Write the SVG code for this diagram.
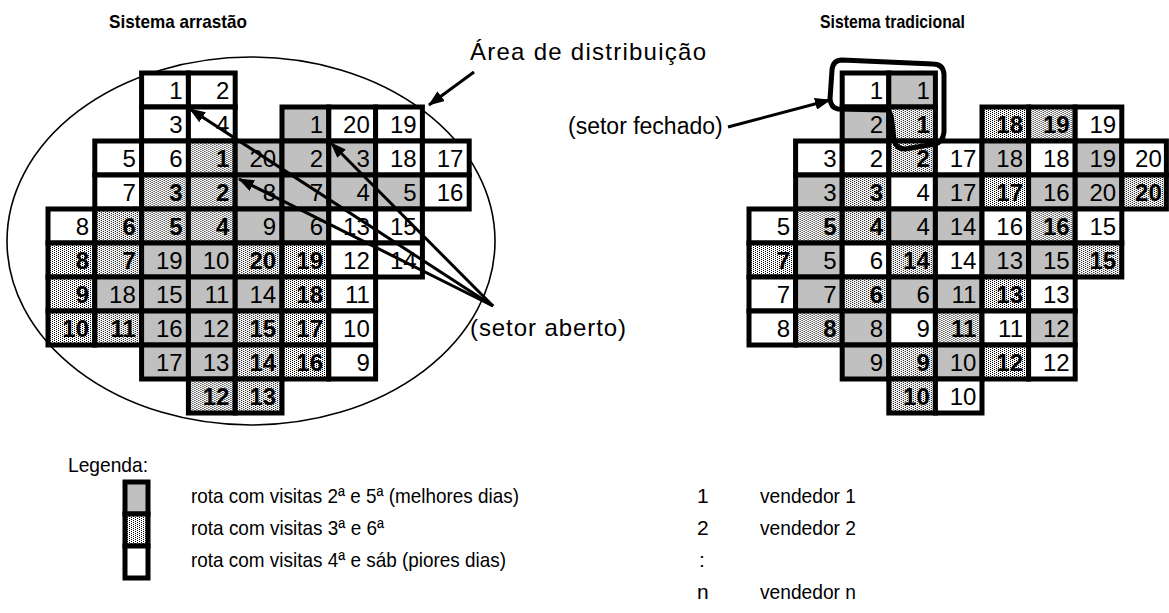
<svg xmlns="http://www.w3.org/2000/svg" width="1169" height="613" viewBox="0 0 1169 613">
<style>
text{font-family:"Liberation Sans",Arial,Helvetica,sans-serif;fill:#000}
.cell rect{stroke:#000;stroke-width:5}
.cell text{font-size:24px;text-anchor:end}
.w rect{fill:#fff}
.g rect{fill:#c0c0c0}
.d rect{fill:url(#dots)}
.d text{font-weight:bold}
.ttl{font-size:19px;font-weight:bold}
.lbl{font-size:24px}
.leg{font-size:21px}
.arr{stroke:#000;stroke-width:3;fill:none}
</style>
<defs>
<pattern id="dots" width="4" height="2" patternUnits="userSpaceOnUse">
<rect width="4" height="2" fill="#fff" style="stroke:none"/>
<rect x="0" y="0" width="1" height="1" fill="#000" style="stroke:none"/>
<rect x="2" y="1" width="1" height="1" fill="#000" style="stroke:none"/>
</pattern>
<marker id="ah" viewBox="0 0 16 12" refX="15" refY="6" markerWidth="16" markerHeight="12" markerUnits="userSpaceOnUse" orient="auto">
<path d="M0,0 L16,6 L0,12 z" fill="#000"/>
</marker>
</defs>
<rect width="1169" height="613" fill="#fff"/>

<g id="titles">
<text class="ttl" x="109" y="28" textLength="138" lengthAdjust="spacingAndGlyphs">Sistema arrastão</text>
<text class="ttl" x="820" y="28" textLength="145" lengthAdjust="spacingAndGlyphs">Sistema tradicional</text>
</g>

<g id="area-distribuicao">
<ellipse cx="251" cy="241" rx="244" ry="184" fill="none" stroke="#000" stroke-width="1.6"/>
</g>

<g id="grid-arrastao">
<g id="L0-2" class="cell w" transform="translate(141.6,73)"><rect width="46.8" height="34"/><text x="41" y="26">1</text></g>
<g id="L0-3" class="cell w" transform="translate(188.4,73)"><rect width="46.8" height="34"/><text x="41" y="26">2</text></g>

<g id="L1-2" class="cell w" transform="translate(141.6,107)"><rect width="46.8" height="34"/><text x="41" y="26">3</text></g>
<g id="L1-3" class="cell w" transform="translate(188.4,107)"><rect width="46.8" height="34"/><text x="41" y="26">4</text></g>
<g id="L1-5" class="cell g" transform="translate(282,107)"><rect width="46.8" height="34"/><text x="41" y="26">1</text></g>
<g id="L1-6" class="cell w" transform="translate(328.8,107)"><rect width="46.8" height="34"/><text x="41" y="26">20</text></g>
<g id="L1-7" class="cell w" transform="translate(375.6,107)"><rect width="46.8" height="34"/><text x="41" y="26">19</text></g>

<g id="L2-1" class="cell w" transform="translate(94.8,141)"><rect width="46.8" height="34"/><text x="41" y="26">5</text></g>
<g id="L2-2" class="cell w" transform="translate(141.6,141)"><rect width="46.8" height="34"/><text x="41" y="26">6</text></g>
<g id="L2-3" class="cell d" transform="translate(188.4,141)"><rect width="46.8" height="34"/><text x="41" y="26">1</text></g>
<g id="L2-4" class="cell g" transform="translate(235.2,141)"><rect width="46.8" height="34"/><text x="41" y="26">20</text></g>
<g id="L2-5" class="cell g" transform="translate(282,141)"><rect width="46.8" height="34"/><text x="41" y="26">2</text></g>
<g id="L2-6" class="cell g" transform="translate(328.8,141)"><rect width="46.8" height="34"/><text x="41" y="26">3</text></g>
<g id="L2-7" class="cell w" transform="translate(375.6,141)"><rect width="46.8" height="34"/><text x="41" y="26">18</text></g>
<g id="L2-8" class="cell w" transform="translate(422.4,141)"><rect width="46.8" height="34"/><text x="41" y="26">17</text></g>

<g id="L3-1" class="cell w" transform="translate(94.8,175)"><rect width="46.8" height="34"/><text x="41" y="26">7</text></g>
<g id="L3-2" class="cell d" transform="translate(141.6,175)"><rect width="46.8" height="34"/><text x="41" y="26">3</text></g>
<g id="L3-3" class="cell d" transform="translate(188.4,175)"><rect width="46.8" height="34"/><text x="41" y="26">2</text></g>
<g id="L3-4" class="cell g" transform="translate(235.2,175)"><rect width="46.8" height="34"/><text x="41" y="26">8</text></g>
<g id="L3-5" class="cell g" transform="translate(282,175)"><rect width="46.8" height="34"/><text x="41" y="26">7</text></g>
<g id="L3-6" class="cell g" transform="translate(328.8,175)"><rect width="46.8" height="34"/><text x="41" y="26">4</text></g>
<g id="L3-7" class="cell g" transform="translate(375.6,175)"><rect width="46.8" height="34"/><text x="41" y="26">5</text></g>
<g id="L3-8" class="cell w" transform="translate(422.4,175)"><rect width="46.8" height="34"/><text x="41" y="26">16</text></g>

<g id="L4-0" class="cell w" transform="translate(48,209)"><rect width="46.8" height="34"/><text x="41" y="26">8</text></g>
<g id="L4-1" class="cell d" transform="translate(94.8,209)"><rect width="46.8" height="34"/><text x="41" y="26">6</text></g>
<g id="L4-2" class="cell d" transform="translate(141.6,209)"><rect width="46.8" height="34"/><text x="41" y="26">5</text></g>
<g id="L4-3" class="cell d" transform="translate(188.4,209)"><rect width="46.8" height="34"/><text x="41" y="26">4</text></g>
<g id="L4-4" class="cell g" transform="translate(235.2,209)"><rect width="46.8" height="34"/><text x="41" y="26">9</text></g>
<g id="L4-5" class="cell g" transform="translate(282,209)"><rect width="46.8" height="34"/><text x="41" y="26">6</text></g>
<g id="L4-6" class="cell w" transform="translate(328.8,209)"><rect width="46.8" height="34"/><text x="41" y="26">13</text></g>
<g id="L4-7" class="cell w" transform="translate(375.6,209)"><rect width="46.8" height="34"/><text x="41" y="26">15</text></g>

<g id="L5-0" class="cell d" transform="translate(48,243)"><rect width="46.8" height="34"/><text x="41" y="26">8</text></g>
<g id="L5-1" class="cell d" transform="translate(94.8,243)"><rect width="46.8" height="34"/><text x="41" y="26">7</text></g>
<g id="L5-2" class="cell g" transform="translate(141.6,243)"><rect width="46.8" height="34"/><text x="41" y="26">19</text></g>
<g id="L5-3" class="cell g" transform="translate(188.4,243)"><rect width="46.8" height="34"/><text x="41" y="26">10</text></g>
<g id="L5-4" class="cell d" transform="translate(235.2,243)"><rect width="46.8" height="34"/><text x="41" y="26">20</text></g>
<g id="L5-5" class="cell d" transform="translate(282,243)"><rect width="46.8" height="34"/><text x="41" y="26">19</text></g>
<g id="L5-6" class="cell w" transform="translate(328.8,243)"><rect width="46.8" height="34"/><text x="41" y="26">12</text></g>
<g id="L5-7" class="cell w" transform="translate(375.6,243)"><rect width="46.8" height="34"/><text x="41" y="26">14</text></g>

<g id="L6-0" class="cell d" transform="translate(48,277)"><rect width="46.8" height="34"/><text x="41" y="26">9</text></g>
<g id="L6-1" class="cell g" transform="translate(94.8,277)"><rect width="46.8" height="34"/><text x="41" y="26">18</text></g>
<g id="L6-2" class="cell g" transform="translate(141.6,277)"><rect width="46.8" height="34"/><text x="41" y="26">15</text></g>
<g id="L6-3" class="cell g" transform="translate(188.4,277)"><rect width="46.8" height="34"/><text x="41" y="26">11</text></g>
<g id="L6-4" class="cell g" transform="translate(235.2,277)"><rect width="46.8" height="34"/><text x="41" y="26">14</text></g>
<g id="L6-5" class="cell d" transform="translate(282,277)"><rect width="46.8" height="34"/><text x="41" y="26">18</text></g>
<g id="L6-6" class="cell w" transform="translate(328.8,277)"><rect width="46.8" height="34"/><text x="41" y="26">11</text></g>

<g id="L7-0" class="cell d" transform="translate(48,311)"><rect width="46.8" height="34"/><text x="41" y="26">10</text></g>
<g id="L7-1" class="cell d" transform="translate(94.8,311)"><rect width="46.8" height="34"/><text x="41" y="26">11</text></g>
<g id="L7-2" class="cell g" transform="translate(141.6,311)"><rect width="46.8" height="34"/><text x="41" y="26">16</text></g>
<g id="L7-3" class="cell g" transform="translate(188.4,311)"><rect width="46.8" height="34"/><text x="41" y="26">12</text></g>
<g id="L7-4" class="cell d" transform="translate(235.2,311)"><rect width="46.8" height="34"/><text x="41" y="26">15</text></g>
<g id="L7-5" class="cell d" transform="translate(282,311)"><rect width="46.8" height="34"/><text x="41" y="26">17</text></g>
<g id="L7-6" class="cell w" transform="translate(328.8,311)"><rect width="46.8" height="34"/><text x="41" y="26">10</text></g>

<g id="L8-2" class="cell g" transform="translate(141.6,345)"><rect width="46.8" height="34"/><text x="41" y="26">17</text></g>
<g id="L8-3" class="cell g" transform="translate(188.4,345)"><rect width="46.8" height="34"/><text x="41" y="26">13</text></g>
<g id="L8-4" class="cell d" transform="translate(235.2,345)"><rect width="46.8" height="34"/><text x="41" y="26">14</text></g>
<g id="L8-5" class="cell d" transform="translate(282,345)"><rect width="46.8" height="34"/><text x="41" y="26">16</text></g>
<g id="L8-6" class="cell w" transform="translate(328.8,345)"><rect width="46.8" height="34"/><text x="41" y="26">9</text></g>

<g id="L9-3" class="cell d" transform="translate(188.4,379)"><rect width="46.8" height="34"/><text x="41" y="26">12</text></g>
<g id="L9-4" class="cell d" transform="translate(235.2,379)"><rect width="46.8" height="34"/><text x="41" y="26">13</text></g>
</g>

<g id="grid-tradicional">
<g id="R0-2" class="cell w" transform="translate(842.2,73)"><rect width="46.6" height="34"/><text x="41" y="26">1</text></g>
<g id="R0-3" class="cell g" transform="translate(888.8,73)"><rect width="46.6" height="34"/><text x="41" y="26">1</text></g>

<g id="R1-2" class="cell g" transform="translate(842.2,107)"><rect width="46.6" height="34"/><text x="41" y="26">2</text></g>
<g id="R1-3" class="cell d" transform="translate(888.8,107)"><rect width="46.6" height="34"/><text x="41" y="26">1</text></g>
<g id="R1-5" class="cell d" transform="translate(982,107)"><rect width="46.6" height="34"/><text x="41" y="26">18</text></g>
<g id="R1-6" class="cell d" transform="translate(1028.6,107)"><rect width="46.6" height="34"/><text x="41" y="26">19</text></g>
<g id="R1-7" class="cell w" transform="translate(1075.2,107)"><rect width="46.6" height="34"/><text x="41" y="26">19</text></g>

<g id="R2-1" class="cell w" transform="translate(795.6,141)"><rect width="46.6" height="34"/><text x="41" y="26">3</text></g>
<g id="R2-2" class="cell w" transform="translate(842.2,141)"><rect width="46.6" height="34"/><text x="41" y="26">2</text></g>
<g id="R2-3" class="cell d" transform="translate(888.8,141)"><rect width="46.6" height="34"/><text x="41" y="26">2</text></g>
<g id="R2-4" class="cell w" transform="translate(935.4,141)"><rect width="46.6" height="34"/><text x="41" y="26">17</text></g>
<g id="R2-5" class="cell g" transform="translate(982,141)"><rect width="46.6" height="34"/><text x="41" y="26">18</text></g>
<g id="R2-6" class="cell w" transform="translate(1028.6,141)"><rect width="46.6" height="34"/><text x="41" y="26">18</text></g>
<g id="R2-7" class="cell g" transform="translate(1075.2,141)"><rect width="46.6" height="34"/><text x="41" y="26">19</text></g>
<g id="R2-8" class="cell w" transform="translate(1121.8,141)"><rect width="44.6" height="34"/><text x="40" y="26">20</text></g>

<g id="R3-1" class="cell g" transform="translate(795.6,175)"><rect width="46.6" height="34"/><text x="41" y="26">3</text></g>
<g id="R3-2" class="cell d" transform="translate(842.2,175)"><rect width="46.6" height="34"/><text x="41" y="26">3</text></g>
<g id="R3-3" class="cell w" transform="translate(888.8,175)"><rect width="46.6" height="34"/><text x="41" y="26">4</text></g>
<g id="R3-4" class="cell g" transform="translate(935.4,175)"><rect width="46.6" height="34"/><text x="41" y="26">17</text></g>
<g id="R3-5" class="cell d" transform="translate(982,175)"><rect width="46.6" height="34"/><text x="41" y="26">17</text></g>
<g id="R3-6" class="cell g" transform="translate(1028.6,175)"><rect width="46.6" height="34"/><text x="41" y="26">16</text></g>
<g id="R3-7" class="cell g" transform="translate(1075.2,175)"><rect width="46.6" height="34"/><text x="41" y="26">20</text></g>
<g id="R3-8" class="cell d" transform="translate(1121.8,175)"><rect width="44.6" height="34"/><text x="40" y="26">20</text></g>

<g id="R4-0" class="cell w" transform="translate(749,209)"><rect width="46.6" height="34"/><text x="41" y="26">5</text></g>
<g id="R4-1" class="cell d" transform="translate(795.6,209)"><rect width="46.6" height="34"/><text x="41" y="26">5</text></g>
<g id="R4-2" class="cell d" transform="translate(842.2,209)"><rect width="46.6" height="34"/><text x="41" y="26">4</text></g>
<g id="R4-3" class="cell g" transform="translate(888.8,209)"><rect width="46.6" height="34"/><text x="41" y="26">4</text></g>
<g id="R4-4" class="cell g" transform="translate(935.4,209)"><rect width="46.6" height="34"/><text x="41" y="26">14</text></g>
<g id="R4-5" class="cell w" transform="translate(982,209)"><rect width="46.6" height="34"/><text x="41" y="26">16</text></g>
<g id="R4-6" class="cell d" transform="translate(1028.6,209)"><rect width="46.6" height="34"/><text x="41" y="26">16</text></g>
<g id="R4-7" class="cell w" transform="translate(1075.2,209)"><rect width="46.6" height="34"/><text x="41" y="26">15</text></g>

<g id="R5-0" class="cell d" transform="translate(749,243)"><rect width="46.6" height="34"/><text x="41" y="26">7</text></g>
<g id="R5-1" class="cell g" transform="translate(795.6,243)"><rect width="46.6" height="34"/><text x="41" y="26">5</text></g>
<g id="R5-2" class="cell w" transform="translate(842.2,243)"><rect width="46.6" height="34"/><text x="41" y="26">6</text></g>
<g id="R5-3" class="cell d" transform="translate(888.8,243)"><rect width="46.6" height="34"/><text x="41" y="26">14</text></g>
<g id="R5-4" class="cell w" transform="translate(935.4,243)"><rect width="46.6" height="34"/><text x="41" y="26">14</text></g>
<g id="R5-5" class="cell g" transform="translate(982,243)"><rect width="46.6" height="34"/><text x="41" y="26">13</text></g>
<g id="R5-6" class="cell g" transform="translate(1028.6,243)"><rect width="46.6" height="34"/><text x="41" y="26">15</text></g>
<g id="R5-7" class="cell d" transform="translate(1075.2,243)"><rect width="46.6" height="34"/><text x="41" y="26">15</text></g>

<g id="R6-0" class="cell w" transform="translate(749,277)"><rect width="46.6" height="34"/><text x="41" y="26">7</text></g>
<g id="R6-1" class="cell g" transform="translate(795.6,277)"><rect width="46.6" height="34"/><text x="41" y="26">7</text></g>
<g id="R6-2" class="cell d" transform="translate(842.2,277)"><rect width="46.6" height="34"/><text x="41" y="26">6</text></g>
<g id="R6-3" class="cell g" transform="translate(888.8,277)"><rect width="46.6" height="34"/><text x="41" y="26">6</text></g>
<g id="R6-4" class="cell g" transform="translate(935.4,277)"><rect width="46.6" height="34"/><text x="41" y="26">11</text></g>
<g id="R6-5" class="cell d" transform="translate(982,277)"><rect width="46.6" height="34"/><text x="41" y="26">13</text></g>
<g id="R6-6" class="cell w" transform="translate(1028.6,277)"><rect width="46.6" height="34"/><text x="41" y="26">13</text></g>

<g id="R7-0" class="cell w" transform="translate(749,311)"><rect width="46.6" height="34"/><text x="41" y="26">8</text></g>
<g id="R7-1" class="cell d" transform="translate(795.6,311)"><rect width="46.6" height="34"/><text x="41" y="26">8</text></g>
<g id="R7-2" class="cell g" transform="translate(842.2,311)"><rect width="46.6" height="34"/><text x="41" y="26">8</text></g>
<g id="R7-3" class="cell w" transform="translate(888.8,311)"><rect width="46.6" height="34"/><text x="41" y="26">9</text></g>
<g id="R7-4" class="cell d" transform="translate(935.4,311)"><rect width="46.6" height="34"/><text x="41" y="26">11</text></g>
<g id="R7-5" class="cell w" transform="translate(982,311)"><rect width="46.6" height="34"/><text x="41" y="26">11</text></g>
<g id="R7-6" class="cell g" transform="translate(1028.6,311)"><rect width="46.6" height="34"/><text x="41" y="26">12</text></g>

<g id="R8-2" class="cell g" transform="translate(842.2,345)"><rect width="46.6" height="34"/><text x="41" y="26">9</text></g>
<g id="R8-3" class="cell d" transform="translate(888.8,345)"><rect width="46.6" height="34"/><text x="41" y="26">9</text></g>
<g id="R8-4" class="cell g" transform="translate(935.4,345)"><rect width="46.6" height="34"/><text x="41" y="26">10</text></g>
<g id="R8-5" class="cell d" transform="translate(982,345)"><rect width="46.6" height="34"/><text x="41" y="26">12</text></g>
<g id="R8-6" class="cell w" transform="translate(1028.6,345)"><rect width="46.6" height="34"/><text x="41" y="26">12</text></g>

<g id="R9-3" class="cell d" transform="translate(888.8,379)"><rect width="46.6" height="34"/><text x="41" y="26">10</text></g>
<g id="R9-4" class="cell w" transform="translate(935.4,379)"><rect width="46.6" height="34"/><text x="41" y="26">10</text></g>
</g>

<g id="setor-fechado-loop">
<path d="M838,109 L887,110 Q891,112 892,122 L894,140 Q896,149 905,149 L935,144 Q943,142 944,132 L944,74 Q943,64 933,64 L842,60 Q833,60 832,70 L830,99 Q831,108 838,109 Z" fill="none" stroke="#000" stroke-width="5" stroke-linejoin="round"/>
</g>

<g id="labels">
<text class="lbl" x="470" y="60" textLength="236" lengthAdjust="spacing">Área de distribuição</text>
<text class="lbl" x="568" y="134" style="font-size:23px">(setor fechado)</text>
<text class="lbl" x="470" y="336" textLength="156" lengthAdjust="spacing">(setor aberto)</text>
</g>

<g id="connectors">
<line class="arr" x1="474" y1="72" x2="429" y2="105" marker-end="url(#ah)"/>
<line class="arr" x1="728" y1="127" x2="830" y2="100" marker-end="url(#ah)"/>
<line class="arr" x1="493" y1="306" x2="190" y2="109" marker-end="url(#ah)"/>
<line class="arr" x1="493" y1="306" x2="331" y2="143" marker-end="url(#ah)"/>
<line class="arr" x1="493" y1="306" x2="239" y2="179" marker-end="url(#ah)"/>
</g>

<g id="legend">
<text class="leg" x="68" y="472" textLength="80" lengthAdjust="spacingAndGlyphs">Legenda:</text>
<g id="leg-g" class="cell g" transform="translate(125,482)"><rect width="23" height="32"/></g>
<g id="leg-d" class="cell d" transform="translate(125,514)"><rect width="23" height="32"/></g>
<g id="leg-w" class="cell w" transform="translate(125,546)"><rect width="23" height="32"/></g>
<text class="leg" x="191" y="503" textLength="328" lengthAdjust="spacingAndGlyphs">rota com visitas 2ª e 5ª (melhores dias)</text>
<text class="leg" x="191" y="535" textLength="193" lengthAdjust="spacingAndGlyphs">rota com visitas 3ª e 6ª</text>
<text class="leg" x="191" y="567" textLength="315" lengthAdjust="spacingAndGlyphs">rota com visitas 4ª e sáb (piores dias)</text>
<text class="leg" x="697" y="503">1</text>
<text class="leg" x="697" y="535">2</text>
<text class="leg" x="699" y="567">:</text>
<text class="leg" x="697" y="599">n</text>
<text class="leg" x="760" y="503" textLength="96" lengthAdjust="spacingAndGlyphs">vendedor 1</text>
<text class="leg" x="760" y="535" textLength="96" lengthAdjust="spacingAndGlyphs">vendedor 2</text>
<text class="leg" x="760" y="599" textLength="96" lengthAdjust="spacingAndGlyphs">vendedor n</text>
</g>
</svg>
